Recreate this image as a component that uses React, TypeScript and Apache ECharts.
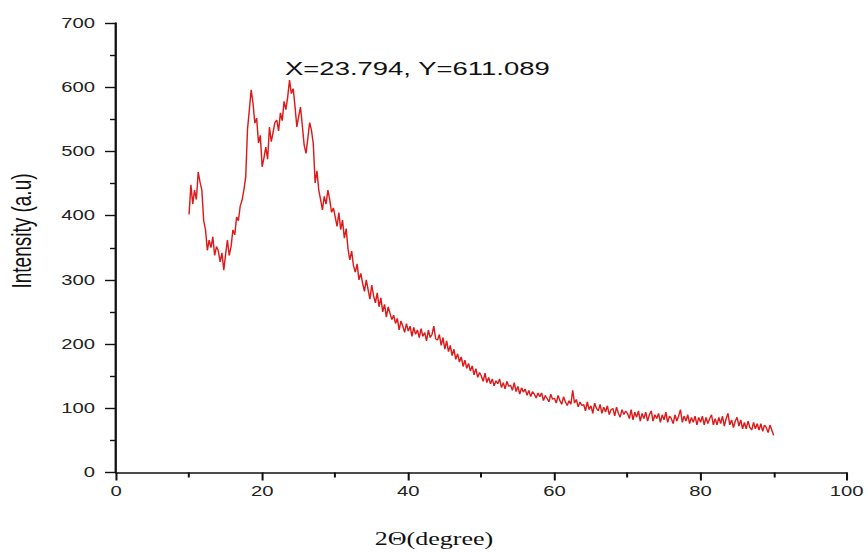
import React, { useEffect, useRef } from "react";
import * as echarts from "echarts";

// 2θ sampling grid: 10° to 90° in 0.25° steps
const X_START = 10;
const X_STEP = 0.25;

// Intensity readings (a.u), 10.0° – 29.75°
const intensity10to30 = [
  402, 448, 418, 440, 425, 468, 452, 440,
  392, 378, 346, 362, 350, 367, 338, 352,
  345, 328, 342, 315, 340, 362, 338, 352,
  378, 370, 398, 392, 415, 424, 440, 460,
  535, 565, 596, 575, 544, 552, 513, 525,
  476, 490, 507, 488, 538, 515, 530, 545,
  549, 532, 560, 548, 578, 565, 585, 611,
  590, 598, 570, 538, 555, 569, 540, 510,
  497, 520, 545, 533, 512, 451, 470, 440,
  425, 409, 430, 418, 440, 425, 405, 412,
];
// 30.0° – 49.75°
const intensity30to50 = [
  398, 383, 405, 378, 393, 365, 380, 348,
  331, 345, 322, 312, 325, 300, 310, 295,
  282, 300, 285, 270, 292, 275, 264, 280,
  258, 272, 250, 262, 242, 258, 248, 238,
  245, 232, 240, 222, 236, 228, 218, 232,
  220, 228, 212, 226, 215, 222, 210, 224,
  212, 218, 205, 222, 210, 215, 228, 208,
  206, 215, 198, 210, 192, 205, 188, 198,
  182, 192, 176, 185, 172, 180, 165, 175,
  162, 170, 158, 166, 152, 162, 148, 156,
];
// 50.0° – 69.75°
const intensity50to70 = [
  150, 142, 155, 140, 148, 138, 146, 135,
  143, 138, 146, 132, 140, 130, 142, 134,
  136, 128, 140, 126, 134, 122, 132, 125,
  130, 120, 128, 118, 126, 122, 116, 124,
  118, 124, 112, 120, 115, 110, 122, 114,
  116, 108, 120, 112, 106, 118, 110, 104,
  112, 106, 128, 108, 114, 102, 110, 104,
  106, 96, 110, 98, 104, 92, 108, 100,
  96, 106, 92, 102, 94, 104, 90, 98,
  100, 88, 102, 92, 86, 98, 90, 96,
];
// 70.0° – 90.0°
const intensity70to90 = [
  92, 84, 98, 82, 94, 86, 96, 80,
  92, 84, 94, 80, 90, 96, 80, 90,
  84, 92, 78, 90, 82, 94, 78, 88,
  84, 76, 90, 80, 88, 98, 78, 88,
  80, 90, 76, 86, 78, 88, 74, 86,
  78, 88, 74, 86, 76, 84, 90, 74,
  84, 74, 86, 76, 88, 72, 84, 92,
  74, 82, 70, 80, 86, 72, 82, 68,
  78, 68, 80, 70, 66, 78, 68, 76,
  66, 76, 64, 74, 70, 62, 74, 66,
  58,
];

const xTicks = [0, 20, 40, 60, 80, 100];
const yTicks = [0, 100, 200, 300, 400, 500, 600, 700];
const xAxisTitle = "2Θ(degree)";
const yAxisTitle = "Intensity (a.u)";
const peakLabel = "X=23.794, Y=611.089";

// the reference picture is stretched horizontally; reproduce by scaling the chart box
const SCALE_X = 868 / 600;

export default function App() {
  const ref = useRef<HTMLDivElement>(null);
  useEffect(() => {
    if (!ref.current) return;
    const chart = echarts.init(ref.current, undefined, { renderer: "svg" });
    const values = [
      ...intensity10to30,
      ...intensity30to50,
      ...intensity50to70,
      ...intensity70to90,
    ];
    const data = values.map((v, i) => [X_START + i * X_STEP, v]);
    const sx = (px: number) => px / SCALE_X;
    const font = "'Liberation Sans', Arial, sans-serif";
    chart.setOption({
      animation: false,
      backgroundColor: "#ffffff",
      grid: { left: sx(116), right: 600 - sx(846.7), top: 23, bottom: 554 - 472.5, containLabel: false },
      xAxis: {
        type: "value",
        min: xTicks[0],
        max: xTicks[xTicks.length - 1],
        interval: 20,
        splitLine: { show: false },
        axisLine: { show: true, onZero: false, lineStyle: { color: "#111", width: 1.6 } },
        axisTick: { show: true, inside: false, length: 8, lineStyle: { color: "#111", width: 1.4 } },
        minorTick: { show: true, splitNumber: 2, length: 5, lineStyle: { color: "#111", width: 1.4 } },
        axisLabel: { show: true, margin: 12, color: "#222", fontSize: 14, fontFamily: font },
      },
      yAxis: {
        type: "value",
        min: yTicks[0],
        max: yTicks[yTicks.length - 1],
        interval: 100,
        splitLine: { show: false },
        axisLine: { show: true, onZero: false, lineStyle: { color: "#111", width: 1.6 } },
        axisTick: { show: true, inside: false, length: sx(11), lineStyle: { color: "#111", width: 1.4 } },
        minorTick: { show: true, splitNumber: 2, length: sx(6), lineStyle: { color: "#111", width: 1.4 } },
        axisLabel: { show: true, margin: sx(21), color: "#222", fontSize: 14, fontFamily: font },
      },
      series: [
        {
          type: "line",
          data,
          showSymbol: false,
          symbol: "none",
          lineStyle: { color: "#dd1a1a", width: 1 },
          z: 3,
        },
      ],
      graphic: [
        {
          type: "text",
          x: sx(285),
          y: 69,
          style: {
            text: peakLabel,
            fill: "#111",
            fontSize: 19,
            fontFamily: font,
            textAlign: "left",
            textVerticalAlign: "middle",
          },
        },
        {
          type: "text",
          x: sx(434),
          y: 539,
          style: {
            text: xAxisTitle,
            fill: "#111",
            fontSize: 18,
            fontFamily: "'Liberation Serif', 'Times New Roman', serif",
            textAlign: "center",
            textVerticalAlign: "middle",
          },
        },
        {
          type: "text",
          x: sx(22),
          y: 231,
          rotation: Math.PI / 2,
          style: {
            text: yAxisTitle,
            fill: "#111",
            fontSize: 19,
            fontFamily: font,
            textAlign: "center",
            textVerticalAlign: "middle",
          },
        },
      ],
    });
    return () => chart.dispose();
  }, []);
  return (
    <div style={{ position: "absolute", left: 0, top: 0, width: 868, height: 554, overflow: "hidden", background: "#fff" }}>
      <div
        ref={ref}
        style={{ width: 600, height: 554, transform: `scaleX(${SCALE_X})`, transformOrigin: "0 0" }}
      />
    </div>
  );
}
